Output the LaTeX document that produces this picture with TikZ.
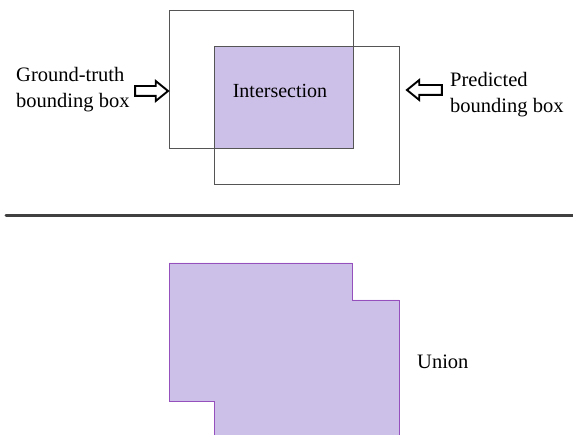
\documentclass[tikz,border=0pt]{standalone}
\usepackage{fontspec}
\setmainfont{Liberation Serif}
\usetikzlibrary{shapes.arrows}
\definecolor{lav}{RGB}{204,192,232}
\definecolor{lavline}{RGB}{150,80,190}
\definecolor{boxline}{RGB}{85,85,85}
\definecolor{sepline}{RGB}{64,64,64}
\tikzset{
  bbox/.style={draw=boxline, line width=1pt, minimum width=#1, inner sep=0pt, anchor=north west},
  lbl/.style={font=\fontsize{20.5}{24}\selectfont, inner sep=0pt, anchor=base west},
  blockarrow/.style={shape=single arrow, draw=black, fill=white, line width=1.9pt,
    inner sep=4pt, single arrow head extend=5pt, single arrow tip angle=78,
    minimum height=#1},
  unionshape/.style={fill=lav, draw=lavline, line width=0.9pt, line join=miter}
}
\begin{document}
\begin{tikzpicture}[x=1pt,y=-1pt]
\useasboundingbox (0,0) rectangle (573,435);
% intersection fill
\fill[lav] (215,47) rectangle (353,148);
% boxes
\node (gtbox) [bbox=184pt, minimum height=138pt] at (169,10) {};
\node (prbox) [bbox=185pt, minimum height=138pt] at (214,46) {};
\node (inter) [font=\fontsize{20}{24}\selectfont, inner sep=0pt] at (280,91) {Intersection};
% labels
\node (gt1) [lbl] at (16,82) {Ground-truth};
\node (gt2) [lbl] at (16,108) {bounding box};
\node (pr1) [lbl] at (450,87) {Predicted};
\node (pr2) [lbl] at (450,113) {bounding box};
% block arrows
\node (arrgt) [blockarrow=33pt] at (148.5,91) {};
\node (arrpr) [blockarrow=35pt, shape border rotate=180] at (427.5,90) {};
% separator
\coordinate (sepL) at (6,216);
\coordinate (sepR) at (573,216);
\draw[sepline, line width=3pt, line cap=round] (sepL) -- (sepR);
% union
\draw[unionshape] (169,263) -- (352,263) -- (352,300) -- (399,300) -- (399,436)
  -- (214,436) -- (214,401) -- (169,401) -- cycle;
\node (union) [lbl] at (417,369) {Union};
\end{tikzpicture}
\end{document}
